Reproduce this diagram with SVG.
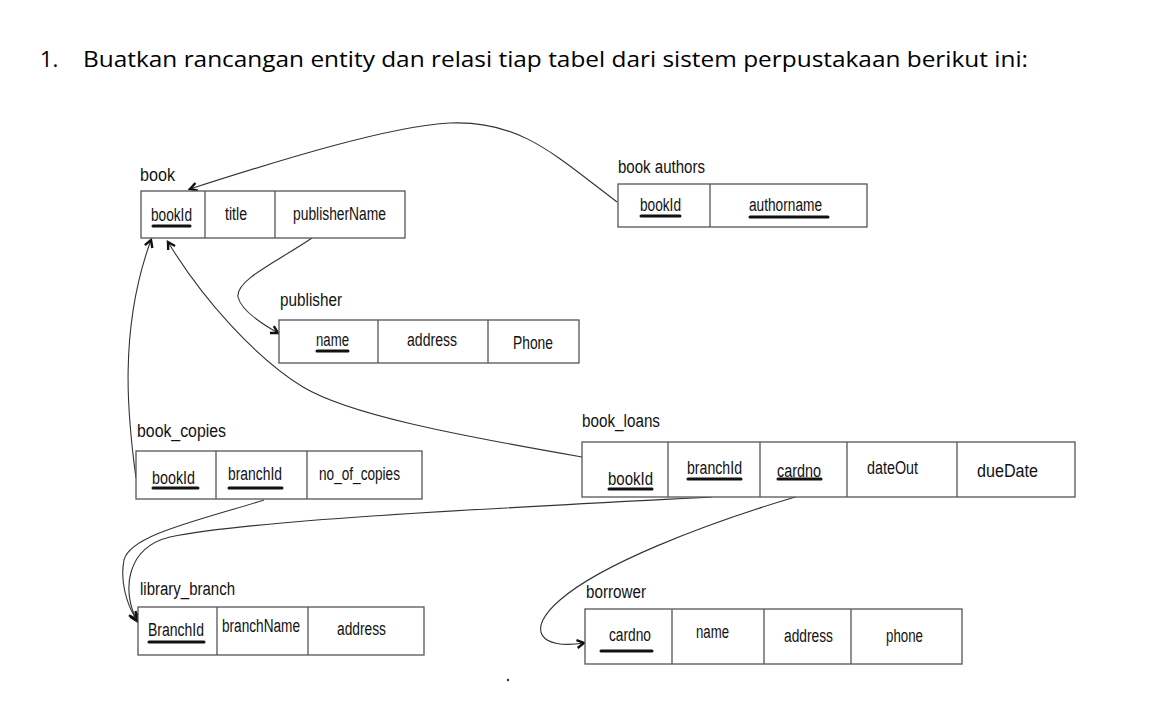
<svg xmlns="http://www.w3.org/2000/svg" width="1165" height="703" viewBox="0 0 1165 703">
<defs>
<style>
.bg{fill:#fff}
.box{fill:#fff;stroke:#555;stroke-width:1.3}
.div{stroke:#555;stroke-width:1.3}
.t{font-family:"Liberation Sans",Arial,sans-serif;font-size:18px;fill:#111}
.h{font-family:"Open Sans","Noto Sans",sans-serif;font-size:22px;fill:#000}
.ul{stroke:#111;stroke-width:3;stroke-linecap:round}
.c{fill:none;stroke:#333;stroke-width:1.1}
</style>
<marker id="arr" markerUnits="userSpaceOnUse" markerWidth="12" markerHeight="12" refX="8" refY="5" orient="auto">
<path d="M1,1 L8,5 L1,9" fill="none" stroke="#111" stroke-width="2.4"/>
</marker>
</defs>
<rect class="bg" width="1165" height="703"/>

<g id="heading">
<text class="h" x="40" y="67">1.</text>
<text class="h" x="83" y="67" textLength="945" lengthAdjust="spacingAndGlyphs">Buatkan rancangan entity dan relasi tiap tabel dari sistem perpustakaan berikut ini:</text>
</g>

<g id="connectors">
<path class="c" d="M617 202 C555 155 520 120 450 123 C390 126 280 160 190 189" marker-end="url(#arr)"/>
<path class="c" d="M312 238 C280 260 235 280 238 297 C241 310 262 324 278 333" marker-end="url(#arr)"/>
<path class="c" d="M136 478 C128 420 118 330 151 240" marker-end="url(#arr)"/>
<path class="c" d="M582 457 C450 434 348 414 303 387 C256 358 203 300 168 242" marker-end="url(#arr)"/>
<path class="c" d="M264 500 C200 520 130 535 124 560 C120 580 126 603 136 619" marker-end="url(#arr)"/>
<path class="c" d="M712 497 C500 508 250 520 170 537 C125 548 122 592 137 621" marker-end="url(#arr)"/>
<path class="c" d="M802 495 C700 525 600 565 560 600 C525 630 540 650 584 643" marker-end="url(#arr)"/>
</g>

<g id="book">
<text class="t" x="140" y="181" textLength="35" lengthAdjust="spacingAndGlyphs">book</text>
<rect class="box" x="141" y="191" width="264" height="47"/>
<line class="div" x1="205" y1="191" x2="205" y2="238"/>
<line class="div" x1="275" y1="191" x2="275" y2="238"/>
<text class="t" x="151" y="221" textLength="41" lengthAdjust="spacingAndGlyphs">bookId</text>
<line class="ul" x1="153" y1="226" x2="190" y2="226"/>
<text class="t" x="225" y="220" textLength="22" lengthAdjust="spacingAndGlyphs">title</text>
<text class="t" x="293" y="220" textLength="93" lengthAdjust="spacingAndGlyphs">publisherName</text>
</g>

<g id="book_authors">
<text class="t" x="618" y="173" textLength="87" lengthAdjust="spacingAndGlyphs">book authors</text>
<rect class="box" x="618" y="184" width="249" height="43"/>
<line class="div" x1="710" y1="184" x2="710" y2="227"/>
<text class="t" x="640" y="211" textLength="41" lengthAdjust="spacingAndGlyphs">bookId</text>
<line class="ul" x1="641" y1="216" x2="680" y2="216"/>
<text class="t" x="749" y="211" textLength="73" lengthAdjust="spacingAndGlyphs">authorname</text>
<line class="ul" x1="750" y1="217" x2="828" y2="217"/>
</g>

<g id="publisher">
<text class="t" x="280" y="306" textLength="62" lengthAdjust="spacingAndGlyphs">publisher</text>
<rect class="box" x="279" y="320" width="300" height="43"/>
<line class="div" x1="378" y1="320" x2="378" y2="363"/>
<line class="div" x1="488" y1="320" x2="488" y2="363"/>
<text class="t" x="316" y="346" textLength="33" lengthAdjust="spacingAndGlyphs">name</text>
<line class="ul" x1="317" y1="351" x2="348" y2="351"/>
<text class="t" x="407" y="346" textLength="50" lengthAdjust="spacingAndGlyphs">address</text>
<text class="t" x="513" y="349" textLength="40" lengthAdjust="spacingAndGlyphs">Phone</text>
</g>

<g id="book_copies">
<text class="t" x="137" y="437" textLength="89" lengthAdjust="spacingAndGlyphs">book_copies</text>
<rect class="box" x="136" y="451" width="286" height="48"/>
<line class="div" x1="216" y1="451" x2="216" y2="499"/>
<line class="div" x1="307" y1="451" x2="307" y2="499"/>
<text class="t" x="152" y="484" textLength="43" lengthAdjust="spacingAndGlyphs">bookId</text>
<line class="ul" x1="153" y1="488" x2="198" y2="488"/>
<text class="t" x="228" y="480" textLength="54" lengthAdjust="spacingAndGlyphs">branchId</text>
<line class="ul" x1="229" y1="488" x2="282" y2="488"/>
<text class="t" x="319" y="480" textLength="81" lengthAdjust="spacingAndGlyphs">no_of_copies</text>
</g>

<g id="book_loans">
<text class="t" x="582" y="427" textLength="78" lengthAdjust="spacingAndGlyphs">book_loans</text>
<rect class="box" x="582" y="442" width="493" height="55"/>
<line class="div" x1="668" y1="442" x2="668" y2="497"/>
<line class="div" x1="760" y1="442" x2="760" y2="497"/>
<line class="div" x1="847" y1="442" x2="847" y2="497"/>
<line class="div" x1="957" y1="442" x2="957" y2="497"/>
<text class="t" x="608" y="485" textLength="45" lengthAdjust="spacingAndGlyphs">bookId</text>
<line class="ul" x1="609" y1="489" x2="652" y2="489"/>
<text class="t" x="687" y="474" textLength="55" lengthAdjust="spacingAndGlyphs">branchId</text>
<line class="ul" x1="688" y1="479" x2="741" y2="479"/>
<text class="t" x="777" y="477" textLength="44" lengthAdjust="spacingAndGlyphs">cardno</text>
<line class="ul" x1="778" y1="479" x2="821" y2="479"/>
<text class="t" x="867" y="474" textLength="51" lengthAdjust="spacingAndGlyphs">dateOut</text>
<text class="t" x="977" y="477" textLength="61" lengthAdjust="spacingAndGlyphs">dueDate</text>
</g>

<g id="library_branch">
<text class="t" x="140" y="595" textLength="95" lengthAdjust="spacingAndGlyphs">library_branch</text>
<rect class="box" x="138" y="607" width="286" height="48"/>
<line class="div" x1="217" y1="607" x2="217" y2="655"/>
<line class="div" x1="308" y1="607" x2="308" y2="655"/>
<text class="t" x="148" y="636" textLength="56" lengthAdjust="spacingAndGlyphs">BranchId</text>
<line class="ul" x1="149" y1="642" x2="204" y2="642"/>
<text class="t" x="222" y="632" textLength="78" lengthAdjust="spacingAndGlyphs">branchName</text>
<text class="t" x="337" y="635" textLength="49" lengthAdjust="spacingAndGlyphs">address</text>
</g>

<g id="borrower">
<text class="t" x="586" y="598" textLength="60" lengthAdjust="spacingAndGlyphs">borrower</text>
<rect class="box" x="585" y="609" width="377" height="55"/>
<line class="div" x1="672" y1="609" x2="672" y2="664"/>
<line class="div" x1="764" y1="609" x2="764" y2="664"/>
<line class="div" x1="851" y1="609" x2="851" y2="664"/>
<text class="t" x="609" y="641" textLength="42" lengthAdjust="spacingAndGlyphs">cardno</text>
<line class="ul" x1="601" y1="651" x2="652" y2="651"/>
<text class="t" x="696" y="638" textLength="33" lengthAdjust="spacingAndGlyphs">name</text>
<text class="t" x="784" y="642" textLength="49" lengthAdjust="spacingAndGlyphs">address</text>
<text class="t" x="886" y="642" textLength="37" lengthAdjust="spacingAndGlyphs">phone</text>
</g>

<circle cx="508" cy="680" r="1.2" fill="#333"/>
</svg>
